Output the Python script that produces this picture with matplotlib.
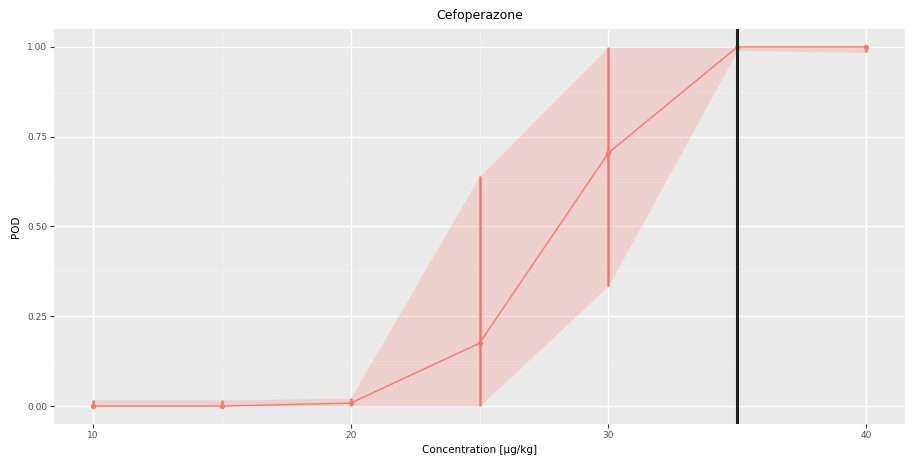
import matplotlib
matplotlib.use('Agg')
import matplotlib.pyplot as plt
import numpy as np

# concentration levels and POD estimates
conc = [10, 15, 20, 25, 30, 35, 40]
pod = [0.0, 0.0, 0.008, 0.175, 0.705, 1.0, 1.0]
lower = [0.0, 0.0, 0.0, 0.0, 0.335, 0.99, 0.985]
upper = [0.017, 0.017, 0.022, 0.64, 1.0, 1.0, 1.0]
lod = 35

col = '#F8766D'

fig = plt.figure(figsize=(9.13, 4.72), dpi=100)
ax = fig.add_axes([0.0592, 0.1017, 0.932, 0.8369])
ax.set_facecolor('#EBEBEB')

ax.fill_between(conc, lower, upper, color=col, alpha=0.22, linewidth=0, zorder=2)
ax.plot(conc, pod, color=col, lw=1.0, zorder=3)
ax.vlines(conc, lower, upper, color=col, lw=1.8, zorder=3)
ax.scatter(conc, pod, color=col, s=7, zorder=4)
ax.axvline(lod, color='#222222', lw=2.2, zorder=5)

ax.set_xlim(8.5, 41.5)
ax.set_ylim(-0.05, 1.05)
ax.set_xticks([10, 20, 30, 40])
ax.set_xticks([15, 25, 35], minor=True)
ax.set_yticks([0, 0.25, 0.5, 0.75, 1.0])
ax.set_yticks([0.125, 0.375, 0.625, 0.875], minor=True)
ax.set_yticklabels(['0.00', '0.25', '0.50', '0.75', '1.00'])
ax.grid(which='major', color='white', lw=0.9, zorder=0)
ax.grid(which='minor', color='#F3F3F3', lw=0.5, zorder=0)
ax.set_axisbelow(True)
for s in ax.spines.values():
    s.set_visible(False)
ax.tick_params(which='major', length=3, color='#333333', labelsize=6.5, labelcolor='#4D4D4D', pad=2)
ax.tick_params(which='minor', length=0)

ax.set_title('Cefoperazone', fontsize=9, pad=7)
ax.set_xlabel('Concentration [µg/kg]', fontsize=7.5, labelpad=4)
ax.set_ylabel('POD', fontsize=7.5, labelpad=4)

fig.savefig('out.png', dpi=100)
